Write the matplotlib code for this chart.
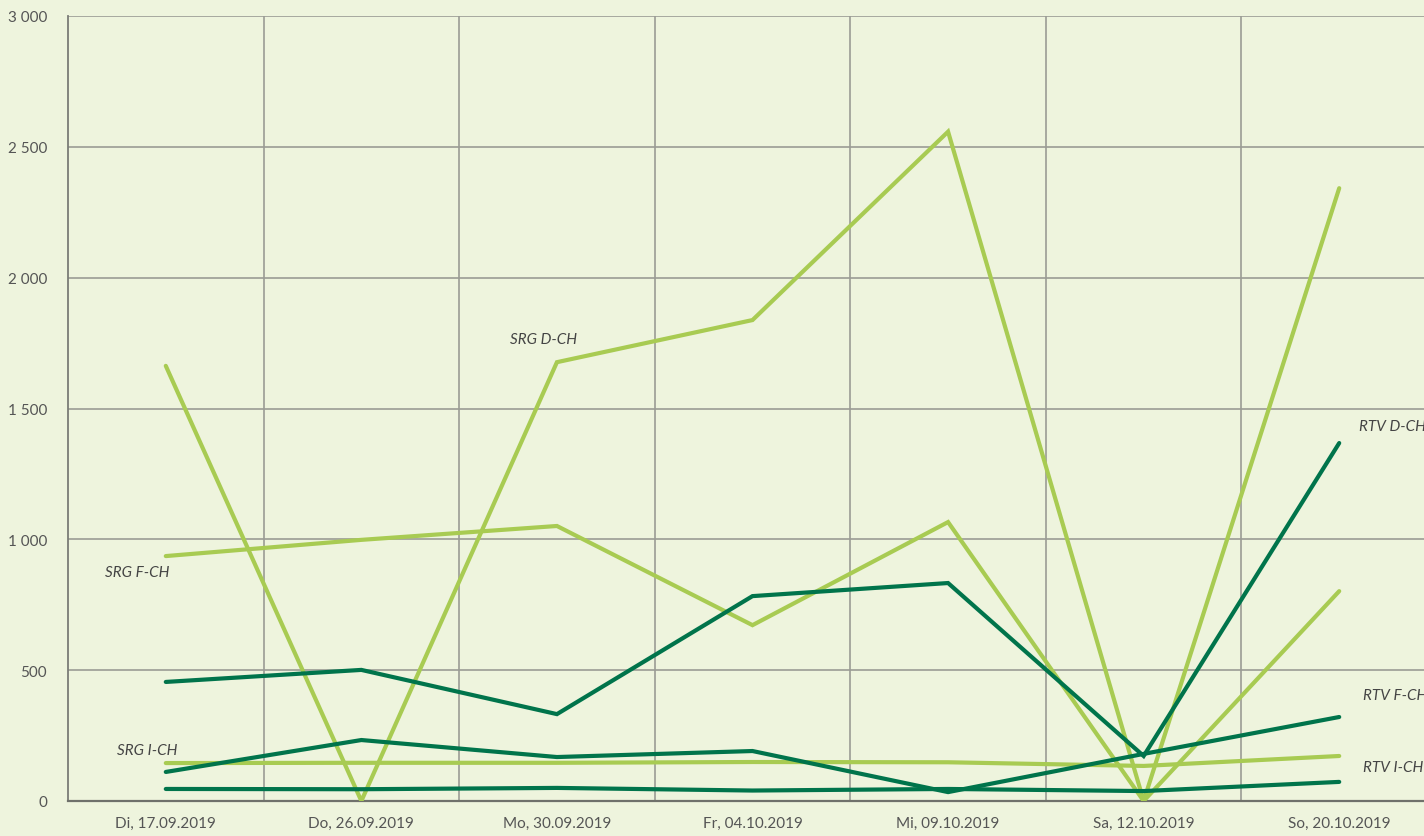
"""Zuschauerzahlen pro Sender und Tag, nachgezeichnet als Liniendiagramm."""

from matplotlib import pyplot as plt
from matplotlib.ticker import FuncFormatter, MultipleLocator, FixedLocator

dates = ["Di, 17.09.2019", "Do, 26.09.2019", "Mo, 30.09.2019", "Fr, 04.10.2019",
         "Mi, 09.10.2019", "Sa, 12.10.2019", "So, 20.10.2019"]

srg_d_ch = [1663, 0, 1677, 1838, 2558, 0, 2342]
srg_f_ch = [936, 998, 1051, 672, 1066, 0, 802]
srg_i_ch = [145, 146, 146, 149, 148, 134, 172]
rtv_d_ch = [455, 501, 332, 783, 833, 172, 1368]
rtv_f_ch = [111, 233, 168, 191, 34, 180, 321]
rtv_i_ch = [46, 45, 50, 40, 46, 38, 73]

LIGHT = '#a8cb52'
DARK = '#00744b'
BG = '#eef4dd'
GRID = '#9a9c94'
TEXT = '#555555'

plt.rcParams['font.family'] = ['Lato', 'DejaVu Sans']

fig = plt.figure(figsize=(14.24, 8.37), dpi=100, facecolor=BG)
# the plot area runs past the right edge of the picture, as in the original
ax = fig.add_axes([68 / 1424, 35 / 837, 1369 / 1424, 785 / 837])
ax.set_facecolor(BG)

x = list(range(len(dates)))
for values, color in [(srg_d_ch, LIGHT), (srg_f_ch, LIGHT), (srg_i_ch, LIGHT),
                      (rtv_d_ch, DARK), (rtv_f_ch, DARK), (rtv_i_ch, DARK)]:
    ax.plot(x, values, c=color, lw=3, solid_capstyle='round', solid_joinstyle='miter', zorder=3)

ax.set_xlim(-0.5, len(dates) - 0.5)
ax.set_ylim(0, 3000)

ax.yaxis.set_major_locator(MultipleLocator(500))
ax.yaxis.set_major_formatter(FuncFormatter(lambda v, pos: "{:,.0f}".format(v).replace(",", " ")))
ax.set_xticks(x)
ax.set_xticklabels(dates)
ax.xaxis.set_minor_locator(FixedLocator([i + 0.5 for i in x]))

ax.grid(True, which='major', axis='y', color=GRID, lw=1.2)
ax.grid(True, which='minor', axis='x', color=GRID, lw=1.2)
ax.set_axisbelow(True)

ax.tick_params(axis='both', which='both', length=0, labelsize=11, labelcolor=TEXT)
ax.tick_params(axis='y', pad=15)
ax.tick_params(axis='x', pad=11)

for side in ['top', 'right']:
    ax.spines[side].set_visible(False)
ax.spines['left'].set_color('#7a7c76')
ax.spines['bottom'].set_color('#6f716b')
ax.spines['left'].set_linewidth(1.3)
ax.spines['bottom'].set_linewidth(1.6)

labels = [("SRG D-CH", 1.76, 1765), ("SRG F-CH", -0.31, 875), ("SRG I-CH", -0.25, 196),
          ("RTV D-CH", 6.10, 1433), ("RTV F-CH", 6.12, 404), ("RTV I-CH", 6.12, 130)]
for text, lx, ly in labels:
    ax.text(lx, ly, text, style='italic', fontsize=11, color='#444444', ha='left', va='center')

plt.savefig("out.png", dpi=100, facecolor=BG)
